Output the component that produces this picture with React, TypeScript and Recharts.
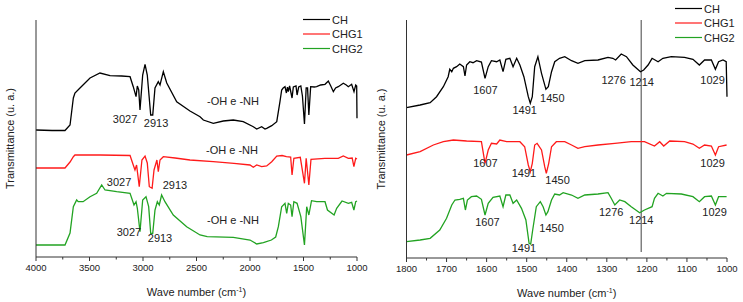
import React from 'react';
import { LineChart, Line, XAxis, YAxis, ReferenceDot, ReferenceLine } from 'recharts';

// ---- full range spectra (4000-1000 cm-1), [wave number, transmittance a.u.]
const chFull = [
  [4000, 127], [3850, 126.5], [3729, 126.5], [3682, 132], [3651, 159], [3636, 164], [3589, 169], [3495, 179],
  [3402, 184], [3308, 181.3], [3200, 181], [3121, 180.3], [3091, 170.3], [3065, 160.3], [3053, 171], [3040, 167],
  [3028, 147], [3003, 182], [2981, 192.7], [2960, 182], [2928, 142], [2909, 142], [2888, 169], [2857, 175.3],
  [2841, 172], [2810, 185.3], [2778, 174], [2685, 155.3], [2561, 146], [2467, 140.3], [2436, 137], [2343, 133.7],
  [2250, 136], [2156, 137], [2063, 135.3], [1969, 130.3], [1937, 128], [1891, 130.3], [1860, 128], [1844, 128.7],
  [1797, 131.3], [1750, 135.3], [1720, 155.3], [1704, 167], [1690, 169], [1673, 170.3], [1660, 164], [1650, 170],
  [1642, 165.3], [1630, 171], [1607, 159], [1595, 170], [1570, 171], [1560, 162], [1545, 170], [1525, 171],
  [1510, 161], [1491, 133], [1475, 169], [1462, 169], [1450, 142], [1433, 170.3], [1400, 170], [1377, 170.3],
  [1340, 172], [1299, 172.7], [1268, 176], [1245, 171], [1221, 165.3], [1200, 169], [1175, 170.3], [1128, 173.7],
  [1100, 172], [1081, 170.3], [1050, 172.7], [1028, 165.3], [1012, 172], [1003, 171], [1000, 138.7],
];

const chg1Full = [
  [4000, 89], [3729, 89], [3682, 95], [3651, 100.3], [3636, 102], [3400, 102], [3121, 101.5], [3091, 92],
  [3075, 87], [3060, 92], [3035, 70.3], [3010, 97], [2981, 101], [2960, 94], [2941, 70.3], [2915, 68.7],
  [2897, 87], [2870, 97], [2857, 85.3], [2841, 97], [2810, 100.3], [2700, 99], [2561, 97], [2343, 95.3],
  [2150, 93.7], [2000, 92], [1969, 89.7], [1937, 92], [1891, 90.3], [1844, 91], [1797, 95.3], [1750, 101],
  [1700, 101.5], [1660, 100.3], [1620, 100], [1607, 82], [1590, 98.7], [1530, 99.7], [1491, 73.7], [1475, 98.7],
  [1450, 72], [1430, 97.7], [1300, 98.7], [1175, 98.7], [1128, 101], [1081, 98.7], [1045, 99], [1029, 90.3],
  [1012, 98.7], [1000, 98],
];

const chg2Full = [
  [4000, 12], [3729, 12], [3682, 24], [3651, 50.3], [3620, 57], [3605, 55.3], [3560, 55.3], [3495, 60.3],
  [3433, 63.7], [3386, 72], [3355, 67], [3246, 65.3], [3121, 63.7], [3084, 52], [3065, 55.3], [3053, 48.7],
  [3028, 25.3], [3003, 57], [2972, 60.3], [2947, 50.3], [2928, 23.7], [2909, 23.7], [2888, 47], [2866, 55.3],
  [2848, 52], [2826, 62], [2795, 55.3], [2717, 42], [2592, 30.3], [2467, 22], [2400, 20.3], [2156, 19.7],
  [2000, 17], [1937, 13], [1875, 14.3], [1800, 17], [1760, 20], [1735, 30.3], [1704, 50.3], [1673, 53.7],
  [1657, 43.7], [1642, 53.7], [1620, 52], [1607, 40.3], [1590, 55.3], [1560, 53.7], [1525, 40.3], [1491, 12],
  [1470, 50.3], [1450, 42], [1425, 56.3], [1377, 55.3], [1299, 55.3], [1276, 47], [1214, 42], [1190, 48.7],
  [1140, 56], [1081, 53.7], [1050, 54.7], [1029, 47], [1012, 55.3], [1000, 56],
];

// ---- fingerprint zoom (1800-1000 cm-1)
const chZoom = [
  [1800, 150.3], [1766, 153], [1741, 155.3], [1725, 161.3], [1708, 171.3], [1696, 181.3], [1692, 188.7],
  [1687, 186.3], [1683, 189.7], [1675, 191.3], [1667, 194], [1658, 191.3], [1654, 182], [1650, 193], [1642, 196.3],
  [1634, 195.3], [1625, 197.3], [1613, 196], [1604, 179.7], [1596, 191.3], [1588, 197.3], [1575, 196.3], [1567, 198],
  [1559, 186.3], [1552, 198.7], [1542, 199.7], [1534, 191.3], [1525, 199.7], [1517, 193], [1507, 181.3], [1496, 161.3],
  [1491, 154.7], [1486, 161.3], [1480, 191.3], [1472, 201.3], [1463, 184.7], [1452, 168.7], [1446, 171.3],
  [1438, 186.3], [1430, 196.3], [1418, 199.7], [1405, 201.3], [1388, 197.3], [1372, 194.7], [1355, 197.3],
  [1322, 198], [1297, 200.7], [1285, 199.7], [1278, 198], [1264, 204], [1251, 201.3], [1235, 193], [1216, 186.3],
  [1208, 188], [1197, 193], [1187, 199.7], [1172, 196.3], [1160, 199.7], [1139, 201.3], [1106, 200.7], [1085, 198.7],
  [1069, 193], [1056, 198], [1039, 198], [1029, 188.7], [1021, 196.3], [1010, 198], [1002, 196.3], [1000, 161.3],
];

const chg1Zoom = [
  [1800, 103], [1766, 106.3], [1733, 113], [1708, 116.3], [1683, 118], [1650, 117], [1613, 116.3], [1604, 94.7],
  [1596, 108], [1588, 114.7], [1575, 114], [1567, 118], [1550, 116.3], [1517, 116.3], [1505, 111.3], [1496, 93],
  [1491, 86.3], [1486, 94.7], [1480, 113], [1474, 114.7], [1463, 108], [1455, 91.3], [1451, 84.7], [1445, 94.7],
  [1438, 111.3], [1426, 116.3], [1405, 116.3], [1388, 113], [1372, 109.7], [1355, 111.3], [1322, 113], [1280, 114.7],
  [1239, 116.3], [1206, 116.3], [1181, 112], [1168, 116.3], [1158, 112], [1143, 117], [1106, 116.3], [1085, 114],
  [1069, 109.7], [1056, 113], [1039, 112], [1029, 103], [1021, 111.3], [1001, 113],
];

const chg2Zoom = [
  [1800, 16.3], [1766, 18], [1741, 19.7], [1717, 28], [1700, 39.7], [1687, 53], [1679, 58], [1667, 58.7],
  [1658, 59.7], [1653, 48], [1648, 58], [1638, 61.3], [1625, 62], [1613, 58.7], [1604, 43], [1596, 54.7],
  [1584, 60.7], [1567, 62], [1559, 51.3], [1552, 63], [1542, 63], [1534, 54.7], [1525, 58], [1513, 49.7],
  [1502, 38], [1494, 14.7], [1490, 14], [1485, 28], [1476, 51.3], [1466, 56.3], [1459, 51.3], [1452, 43],
  [1447, 46.3], [1438, 58], [1430, 64], [1418, 63], [1409, 65.3], [1388, 63], [1372, 59.7], [1355, 63],
  [1322, 64], [1297, 65.3], [1289, 59.7], [1280, 53], [1268, 58], [1255, 56.3], [1239, 51.3], [1218, 45.3],
  [1206, 48], [1187, 51.3], [1181, 59.7], [1172, 64.7], [1160, 62], [1151, 64.7], [1114, 64], [1085, 61.3],
  [1069, 56.3], [1056, 61.3], [1039, 62], [1029, 53], [1021, 61.3], [1001, 61.3],
];

const seriesNames = ['CH', 'CHG1', 'CHG2'];
const seriesColors = ['#000000', '#ff1a1a', '#22a322'];

const fullTicks = [4000, 3750, 3500, 3250, 3000, 2750, 2500, 2250, 2000, 1750, 1500, 1250, 1000];
const zoomTicks = [1800, 1750, 1700, 1650, 1600, 1550, 1500, 1450, 1400, 1350, 1300, 1250, 1200, 1150, 1100, 1050, 1000];

// peak labels: [text, wave number, level]
const fullNotes: [string, number, number][] = [
  ['3027', 3168, 138], ['2913', 2878, 134], ['-OH e -NH', 2159, 156],
  ['-OH e -NH', 2168, 107], ['3027', 3224, 75.3], ['2913', 2701, 72],
  ['-OH e -NH', 2159, 37], ['3027', 3131, 25.3], ['2913', 2841, 18.7],
];
const zoomNotes: [string, number, number][] = [
  ['1607', 1603, 168], ['1491', 1505, 148], ['1450', 1436, 159.7],
  ['1276', 1283, 178], ['1214', 1213, 176.3], ['1029', 1036, 178],
  ['1607', 1603, 94.7], ['1491', 1507, 84.7], ['1450', 1423, 78], ['1029', 1036, 94.7],
  ['1607', 1598, 35.7], ['1491', 1507, 9.7], ['1450', 1438, 29.7],
  ['1276', 1289, 46.3], ['1214', 1214, 38], ['1029', 1031, 46.3],
];
const markerWave = 1214;

const FONT = '"Liberation Sans", Arial, Helvetica, sans-serif';
const AXIS = '#333';
const TEXT = '#222';

const toPts = (arr: number[][]) => arr.map(([w, t]) => ({ w, t }));

const makeTick = (step: number) => (props: any) => {
  const { x, y, payload } = props;
  const major = payload.value % step === 0;
  return (
    <g>
      <line x1={x} x2={x} y1={y} y2={y + (major ? 4 : 2.5)} stroke={AXIS} strokeWidth={1} />
      {major && (
        <text x={x} y={y + 14} textAnchor="middle" fontSize={9.5} fill={TEXT} fontFamily={FONT}>
          {payload.value}
        </text>
      )}
    </g>
  );
};

const AxisTitle = (props: any) => {
  const { viewBox } = props;
  const cx = viewBox.x + viewBox.width / 2;
  return (
    <text x={cx} y={viewBox.y + 39} textAnchor="middle" fontSize={11} fill={TEXT} fontFamily={FONT}>
      <tspan>Wave number (cm</tspan>
      <tspan fontSize={7} dy={-4}>-1</tspan>
      <tspan dy={4}>)</tspan>
    </text>
  );
};

const YTitle = (props: any) => {
  const { viewBox } = props;
  const x = viewBox.x + viewBox.width - 26;
  const y = viewBox.y + viewBox.height / 2;
  return (
    <text
      x={x}
      y={y}
      transform={`rotate(-90 ${x} ${y})`}
      textAnchor="middle"
      dominantBaseline="central"
      fontSize={11}
      fill={TEXT}
      fontFamily={FONT}
    >
      Transmittance (u. a.)
    </text>
  );
};

const LegendBox = ({ left, top }: { left: number; top: number }) => (
  <svg width={70} height={46} style={{ position: 'absolute', left, top, overflow: 'visible' }}>
    {seriesNames.map((n, i) => (
      <g key={n}>
        <line x1={0} x2={27} y1={i * 14.5 + 0.5} y2={i * 14.5 + 0.5} stroke={seriesColors[i]} strokeWidth={1.2} />
        <text x={29} y={i * 14.5 + 0.5} dominantBaseline="central" fontSize={11} fill={TEXT} fontFamily={FONT}>
          {n}
        </text>
      </g>
    ))}
  </svg>
);

const Panel = ({
  series, domain, ticks, step, notes, yMax, width, margin, marker,
}: any) => (
  <LineChart width={width} height={302} margin={margin}>
    <XAxis
      type="number"
      dataKey="w"
      domain={domain}
      reversed
      ticks={ticks}
      interval={0}
      tickLine={false}
      tickSize={0}
      tickMargin={0}
      height={30}
      axisLine={{ stroke: AXIS }}
      tick={makeTick(step)}
      label={{ content: <AxisTitle /> }}
    />
    <YAxis
      type="number"
      domain={[0, yMax]}
      allowDataOverflow
      width={1}
      tick={false}
      tickLine={false}
      axisLine={{ stroke: AXIS }}
      label={{ content: <YTitle /> }}
    />
    {marker !== undefined && (
      <ReferenceLine
        segment={[{ x: marker, y: 6 }, { x: marker, y: yMax }]}
        stroke="#7f7f7f"
        strokeWidth={1.5}
      />
    )}
    {series.map((s: number[][], i: number) => (
      <Line
        key={seriesNames[i]}
        name={seriesNames[i]}
        data={toPts(s)}
        dataKey="t"
        type="linear"
        stroke={seriesColors[i]}
        strokeWidth={1.3}
        dot={false}
        activeDot={false}
        isAnimationActive={false}
      />
    ))}
    {notes.map(([text, w, t]: [string, number, number], i: number) => (
      <ReferenceDot
        key={i}
        x={w}
        y={t}
        r={0}
        fill="none"
        stroke="none"
        ifOverflow="visible"
        label={{ value: text, position: 'center', fontSize: 11, fill: TEXT, fontFamily: FONT }}
      />
    ))}
  </LineChart>
);

export default function App() {
  return (
    <div style={{ position: 'absolute', left: 0, top: 0, width: 743, height: 302, background: '#fff', fontFamily: FONT }}>
      <div style={{ position: 'absolute', left: 0, top: 0 }}>
        <Panel
          series={[chFull, chg1Full, chg2Full]}
          domain={[1000, 4000]}
          ticks={fullTicks}
          step={500}
          notes={fullNotes}
          yMax={237}
          width={370}
          margin={{ top: 20, right: 13, bottom: 15, left: 35 }}
        />
      </div>
      <div style={{ position: 'absolute', left: 370, top: 0 }}>
        <Panel
          series={[chZoom, chg1Zoom, chg2Zoom]}
          domain={[1000, 1800]}
          ticks={zoomTicks}
          step={100}
          notes={zoomNotes}
          yMax={238}
          width={373}
          margin={{ top: 20, right: 16, bottom: 14, left: 35.5 }}
          marker={markerWave}
        />
      </div>
      <LegendBox left={303} top={18.5} />
      <LegendBox left={675} top={7.5} />
    </div>
  );
}
